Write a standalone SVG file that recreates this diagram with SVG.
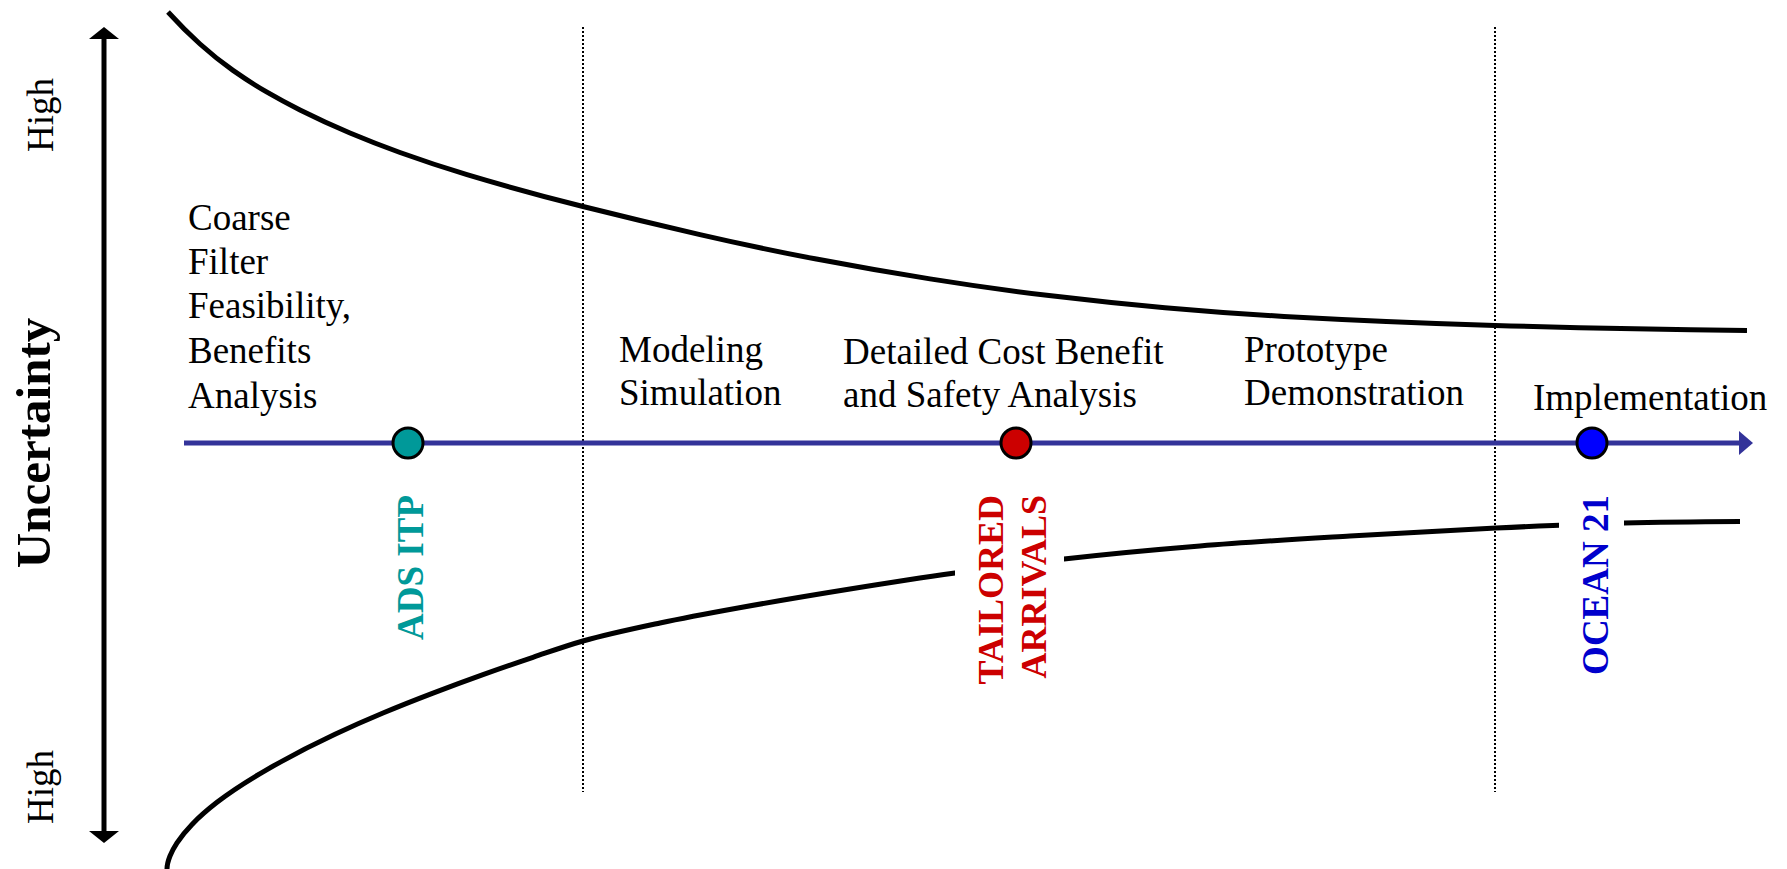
<svg xmlns="http://www.w3.org/2000/svg" width="1787" height="869" viewBox="0 0 1787 869">
<style>
.lbl{font-family:"Liberation Serif","Times New Roman",serif;font-size:37px;fill:#000}
.vert{font-family:"Liberation Serif","Times New Roman",serif;font-weight:bold}
.curve{fill:none;stroke:#000;stroke-width:5;stroke-linecap:butt;stroke-linejoin:round}
.div{stroke:#000;stroke-width:2;stroke-dasharray:2 2}
.dot{stroke:#000;stroke-width:3}
</style>
<defs>
<mask id="gaps" maskUnits="userSpaceOnUse" x="0" y="0" width="1787" height="869">
<rect x="0" y="0" width="1787" height="869" fill="#fff"/>
<rect x="955" y="530" width="109" height="70" fill="#000"/>
<rect x="1559" y="500" width="65" height="50" fill="#000"/>
</mask>
</defs>
<rect width="1787" height="869" fill="#fff"/>

<g id="connectors">
<!-- uncertainty axis -->
<line x1="104" y1="37" x2="104" y2="832" stroke="#000" stroke-width="5"/>
<polygon points="104,27 89,39 119,39" fill="#000"/>
<polygon points="104,843 89,831 119,831" fill="#000"/>
<!-- funnel curves -->
<path class="curve" d="M168,12 C178.67,23.73 189.33,34.4 200,44 C211,53.9 222,62.7 233,70.4 C244.33,78.33 255.67,85.63 267,92.2 C278,98.58 289,104.5 300,110 C316.67,118.33 333.33,126 350,133 C366.67,140 383.33,146.5 400,152.5 C422.33,160.54 444.67,167.9 467,174.6 C505.67,186.2 544.33,196.83 583,206.5 C622,216.25 661,225.63 700,234.6 C738.33,243.42 776.67,251.52 815,258.8 C853.33,266.08 891.67,272.77 930,278.9 C969.67,285.25 1009.33,290.84 1049,295.6 C1087.67,300.24 1126.33,304.32 1165,307.8 C1204.67,311.37 1244.33,314.22 1284,316.4 C1354.33,320.27 1424.67,323.29 1495,325.4 C1579,327.92 1663,329.56 1747,330.4"/>
<path class="curve" mask="url(#gaps)" d="M167,876 L167,869 C167,864 169,858.52 170,856 C172.33,850.11 174.67,846.35 177,842.8 C182,835.2 187,829.58 192,824.4 C200.33,815.77 208.67,808.76 217,802.3 C233.67,789.38 250.33,779.23 267,769.6 C289.67,756.5 312.33,744.74 335,734.2 C351,726.76 367,719.7 383,713 C399.67,706.02 416.33,699.48 433,693.1 C449.67,686.72 466.33,680.55 483,674.6 C499.67,668.65 516.33,662.88 533,657.3 C549.67,651.72 566.33,645.67 583,641 C608.67,633.81 634.33,628.47 660,623 C686,617.46 712,612.71 738,608 C775.33,601.24 812.67,595.01 850,589 C885,583.36 920,577.9 955,573 C991.33,567.91 1027.67,563.07 1064,559 C1109.33,553.92 1154.67,549.67 1200,546 C1250,541.95 1300,539.05 1350,536 C1398.67,533.03 1447.33,530.29 1496,528 C1538.67,525.99 1581.33,524.11 1624,523 C1662.67,521.99 1701.33,521.69 1740,521.5"/>
<!-- phase dividers -->
<line class="div" x1="583" y1="27" x2="583" y2="792"/>
<line class="div" x1="1495" y1="27" x2="1495" y2="792"/>
<!-- timeline -->
<line x1="184" y1="443" x2="1741" y2="443" stroke="#333399" stroke-width="5"/>
<polygon points="1753,443 1739,431 1739,455" fill="#333399"/>
</g>

<g id="axis-labels">
<text class="vert" font-size="49" text-anchor="middle" transform="translate(50,443) rotate(-90)">Uncertainty</text>
<text class="lbl" text-anchor="middle" transform="translate(53,115) rotate(-90)">High</text>
<text class="lbl" text-anchor="middle" transform="translate(53,787) rotate(-90)">High</text>
</g>

<g id="phase-coarse">
<text class="lbl" x="188" y="230">Coarse</text>
<text class="lbl" x="188" y="274">Filter</text>
<text class="lbl" x="188" y="318">Feasibility,</text>
<text class="lbl" x="188" y="363">Benefits</text>
<text class="lbl" x="188" y="408">Analysis</text>
</g>
<g id="phase-modeling">
<text class="lbl" x="619" y="362">Modeling</text>
<text class="lbl" x="619" y="405">Simulation</text>
</g>
<g id="phase-detailed">
<text class="lbl" x="843" y="364">Detailed Cost Benefit</text>
<text class="lbl" x="843" y="407">and Safety Analysis</text>
</g>
<g id="phase-prototype">
<text class="lbl" x="1244" y="362">Prototype</text>
<text class="lbl" x="1244" y="405">Demonstration</text>
</g>
<g id="phase-implementation">
<text class="lbl" x="1533" y="410">Implementation</text>
</g>

<g id="milestone-ads-itp">
<circle class="dot" cx="408" cy="443" r="15" fill="#009999"/>
<text class="vert" font-size="37" fill="#009999" text-anchor="end" transform="translate(423,495) rotate(-90)">ADS ITP</text>
</g>
<g id="milestone-tailored-arrivals">
<circle class="dot" cx="1016" cy="443" r="15" fill="#CC0000"/>
<text class="vert" font-size="36" fill="#CC0000" text-anchor="end" transform="translate(1003,495) rotate(-90)">TAILORED</text>
<text class="vert" font-size="36" fill="#CC0000" text-anchor="end" transform="translate(1046,495) rotate(-90)">ARRIVALS</text>
</g>
<g id="milestone-ocean21">
<circle class="dot" cx="1592" cy="443" r="15" fill="#0000FF"/>
<text class="vert" font-size="37" fill="#0000CC" text-anchor="end" transform="translate(1608,495) rotate(-90)">OCEAN 21</text>
</g>
</svg>
